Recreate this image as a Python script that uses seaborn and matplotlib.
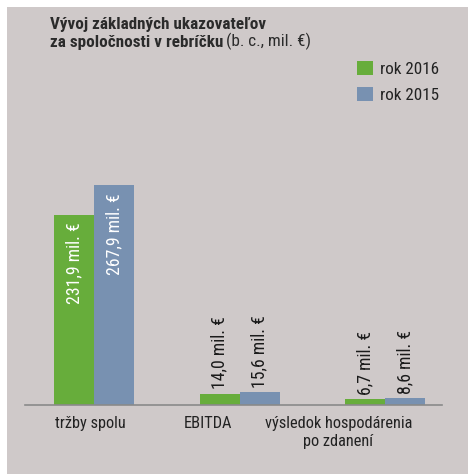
import pandas as pd
import matplotlib
matplotlib.use("Agg")
import matplotlib.pyplot as plt
import matplotlib.transforms as mtransforms
from matplotlib.patches import Rectangle
import seaborn as sns

# data
categories = ["tržby spolu", "EBITDA", "výsledok hospodárenia\npo zdanení"]
years = ["rok 2016", "rok 2015"]
values_2016 = [231.9, 14.0, 6.7]
values_2015 = [267.9, 15.6, 8.6]
colors = ["#67ad3b", "#7891b1"]

BG = "#cfc9c9"
FONT = ["Roboto Condensed", "Archivo Narrow", "DejaVu Sans"]


def fmt(v):
    return f"{v:.1f}".replace(".", ",") + " mil. €"


def main():
    df = pd.DataFrame({
        "kategoria": categories * 2,
        "rok": [years[0]] * 3 + [years[1]] * 3,
        "hodnota": values_2016 + values_2015,
    })

    sns.set_style("white")
    plt.rcParams["font.family"] = FONT

    fig = plt.figure(figsize=(4.68, 4.74), dpi=100)
    fig.patch.set_facecolor("white")
    fig.patches.append(Rectangle((7 / 468, 0), 1, 467 / 474, transform=fig.transFigure,
                                 facecolor=BG, edgecolor="none", zorder=-10))

    ax = fig.add_axes([25 / 468, 69 / 474, 417 / 468, 345 / 474])
    ax.patch.set_visible(False)

    sns.barplot(data=df, x="kategoria", y="hodnota", hue="rok", hue_order=years,
                palette=colors, width=0.55, gap=0, saturation=1, linewidth=0, ax=ax)

    ax.set_xlim(-0.474, 2.39)
    ax.set_ylim(0, 420)
    ax.set_xlabel("")
    ax.set_ylabel("")
    ax.set_yticks([])
    for s in ["top", "left", "right"]:
        ax.spines[s].set_visible(False)
    ax.spines["bottom"].set_color("#8a8a8a")
    ax.spines["bottom"].set_linewidth(1.2)
    ax.tick_params(axis="x", length=0, pad=8, labelsize=11.8, labelcolor="#222222")

    # category labels sit a bit left of their bars in the original
    for lbl, dx in zip(ax.get_xticklabels(), [-4, -32, -47]):
        shift = mtransforms.ScaledTranslation(dx / 100, 0, fig.dpi_scale_trans)
        lbl.set_transform(lbl.get_transform() + shift)

    # value labels
    for cont, vals in zip(ax.containers, [values_2016, values_2015]):
        for i, (bar, v) in enumerate(zip(cont, vals)):
            x = bar.get_x() + bar.get_width() / 2
            if i == 0:
                ax.annotate(fmt(v), (x, v), xytext=(0, -6), textcoords="offset points",
                            rotation=90, ha="center", va="top", color="white", fontsize=12.8)
            else:
                ax.annotate(fmt(v), (x, v), xytext=(0, 3), textcoords="offset points",
                            rotation=90, ha="center", va="bottom", color="#1a1a1a", fontsize=12.8)

    sns.move_legend(ax, "upper left", bbox_to_anchor=(357 / 468, 1 - 61 / 474),
                    bbox_transform=fig.transFigure, frameon=False, title=None,
                    fontsize=12.3, handlelength=0.95, handleheight=0.9, handletextpad=0.4,
                    labelspacing=0.6, borderpad=0, borderaxespad=0)
    for t in ax.get_legend().get_texts():
        t.set_color("#222222")

    # title
    fig.text(50 / 468, 1 - 29 / 474, "Vývoj základných ukazovateľov", fontsize=12.3,
             fontweight="bold", color="#2b2b2b", va="baseline")
    t2 = fig.text(50 / 468, 1 - 47 / 474, "za spoločnosti v rebríčku", fontsize=12.3,
                  fontweight="bold", color="#2b2b2b", va="baseline")
    ax.annotate("(b. c., mil. €)", xy=(1, 0), xycoords=t2, xytext=(2, 0),
                textcoords="offset points", fontsize=12.3, color="#2b2b2b", va="bottom")

    fig.savefig("out.png", dpi=100)


if __name__ == "__main__":
    main()
